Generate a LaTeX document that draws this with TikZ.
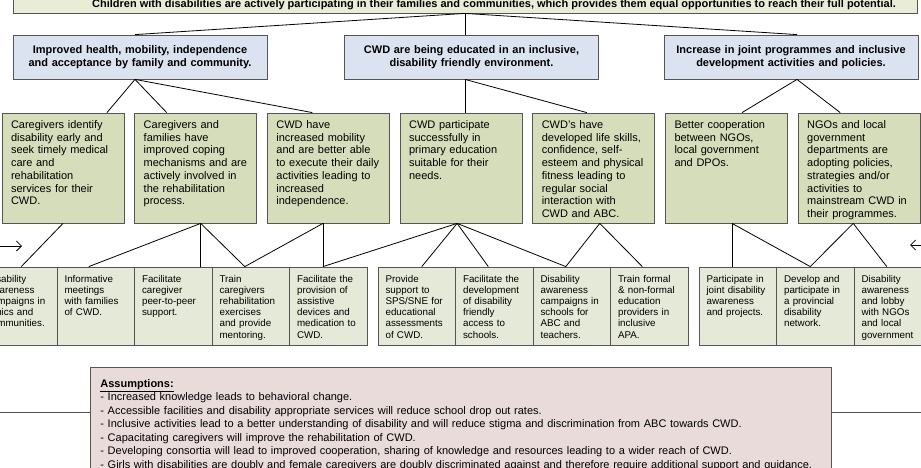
\documentclass[tikz,border=0pt]{standalone}
\usepackage{fontspec}
\setmainfont{Liberation Sans}
\usetikzlibrary{positioning,arrows.meta}
\definecolor{boxline}{RGB}{85,85,85}
\definecolor{goalfill}{RGB}{233,237,215}
\definecolor{outfill}{RGB}{220,227,240}
\definecolor{resfill}{RGB}{214,221,186}
\definecolor{actfill}{RGB}{229,233,215}
\definecolor{asmfill}{RGB}{234,219,219}
\tikzset{
  goal/.style={draw=boxline, fill=goalfill, minimum width=904pt, minimum height=17pt, inner sep=0pt, font=\bfseries\fontsize{11}{13}\selectfont},
  outcome/.style={draw=boxline, fill=outfill, text width=242pt, inner xsep=6pt, minimum height=44pt, align=center, font=\bfseries\fontsize{11}{13}\selectfont},
  result/.style={draw=boxline, fill=resfill, text width=104pt, inner xsep=9pt, inner ysep=5pt, text height=10.5pt, text depth=89.5pt, align=left, font=\fontsize{11}{12.7}\selectfont},
  activity/.style={draw=boxline, fill=actfill, text width=62.5pt, inner xsep=7.5pt, inner ysep=4pt, text height=11pt, text depth=59pt, align=left, font=\fontsize{9.8}{11.2}\selectfont},
  assume/.style={draw=boxline, fill=asmfill, text width=721pt, inner xsep=10pt, inner ysep=8pt, text height=12pt, text depth=130pt, align=left, font=\fontsize{11}{13.5}\selectfont}
}

\begin{document}
\begin{tikzpicture}[x=1pt, y=-1pt, on grid, node distance=132.7pt, line width=0.8pt]
\useasboundingbox (0,0) rectangle (921,468);

% Boxes
\node [goal] (vision) at (465,4.5) {\hspace*{58pt}Children with disabilities are actively participating in their families and communities, which provides them equal opportunities to reach their full potential.};

\node [outcome] (health) at (140,57) {Improved health, mobility, independence\\and acceptance by family and community.};
\node [outcome, right=331.5pt of health] (school) {CWD are being educated in an inclusive,\\disability friendly environment.};
\node [outcome, right=319.5pt of school] (joint) {Increase in joint programmes and inclusive\\development activities and policies.};

\node [result] (identify) at (63,168) {Caregivers identify\\disability early and\\seek timely medical\\care and\\rehabilitation\\services for their\\CWD.};
\node [result, right=of identify] (coping) {Caregivers and\\families have\\improved coping\\mechanisms and are\\actively involved in\\the rehabilitation\\process.};
\node [result, right=of coping] (mobility) {CWD have\\increased mobility\\and are better able\\to execute their daily\\activities leading to\\increased\\independence.};
\node [result, right=of mobility] (primary) {CWD participate\\successfully in\\primary education\\suitable for their\\needs.};
\node [result, right=of primary] (skills) {CWD's have\\developed life skills,\\confidence, self-\\esteem and physical\\fitness leading to\\regular social\\interaction with\\CWD and ABC.};
\node [result, right=of skills] (cooperation) {Better cooperation\\between NGOs,\\local government\\and DPOs.};
\node [result, right=of cooperation] (policies) {NGOs and local\\government\\departments are\\adopting policies,\\strategies and/or\\activities to\\mainstream CWD in\\their programmes.};

\node [activity] (clinics) at (18.3,306) {Disability\\awareness\\campaigns in\\clinics and\\communities.};
\node [activity, right=77.5pt of clinics] (meetings) {Informative\\meetings\\with families\\of CWD.};
\node [activity, right=77.5pt of meetings] (peer) {Facilitate\\caregiver\\peer-to-peer\\support.};
\node [activity, right=77.5pt of peer] (train) {Train\\caregivers\\rehabilitation\\exercises\\and provide\\mentoring.};
\node [activity, right=77.5pt of train] (devices) {Facilitate the\\provision of\\assistive\\devices and\\medication to\\CWD.};
\node [activity] (support) at (416.8,306) {Provide\\support to\\SPS/SNE for\\educational\\assessments\\of CWD.};
\node [activity, right=77.5pt of support] (access) {Facilitate the\\development\\of disability\\friendly\\access to\\schools.};
\node [activity, right=77.5pt of access] (campaigns) {Disability\\awareness\\campaigns in\\schools for\\ABC and\\teachers.};
\node [activity, right=77.5pt of campaigns] (formal) {Train formal\\\& non-formal\\education\\providers in\\inclusive\\APA.};
\node [activity] (participate) at (737.8,306) {Participate in\\joint disability\\awareness\\and projects.};
\node [activity, right=77.5pt of participate] (network) {Develop and\\participate in\\a provincial\\disability\\network.};
\node [activity, right=77.5pt of network] (lobby) {Disability\\awareness\\and lobby\\with NGOs\\and local\\government};

\node [assume, anchor=north west] (assumptions) at (90,367) {\textbf{\underline{Assumptions:}}\\
- Increased knowledge leads to behavioral change.\\
- Accessible facilities and disability appropriate services will reduce school drop out rates.\\
- Inclusive activities lead to a better understanding of disability and will reduce stigma and discrimination from ABC towards CWD.\\
- Capacitating caregivers will improve the rehabilitation of CWD.\\
- Developing consortia will lead to improved cooperation, sharing of knowledge and resources leading to a wider reach of CWD.\\
- Girls with disabilities are doubly and female caregivers are doubly discriminated against and therefore require additional support and guidance.};

\coordinate (leftin) at (-2,246);
\coordinate (leftout) at (22,246);
\coordinate (rightin) at (923,245);
\coordinate (rightout) at (910,245);
\coordinate (asmleft) at (-2,412);
\coordinate (asmright) at (923,412);

%Connections
\path (vision.south) edge ([xshift=-5pt]health.north);
\path (vision.south) edge (vision.south |- school.north);
\path (vision.south) edge ([xshift=6pt]joint.north);

\path ([xshift=-5pt]health.south) edge ([xshift=44pt]identify.north);
\path ([xshift=-5pt]health.south) edge ([xshift=-29pt]coping.north);
\path ([xshift=-5pt]health.south) edge ([xshift=-16pt]mobility.north);
\path (vision.south |- school.south) edge (vision.south |- primary.north);
\path (vision.south |- school.south) edge ([xshift=-7pt]skills.north);
\path ([xshift=6pt]joint.south) edge ([xshift=15.5pt]cooperation.north);
\path ([xshift=6pt]joint.south) edge ([xshift=-19pt]policies.north);

\path (identify.south) edge ([xshift=3pt]clinics.north);
\path ([xshift=5pt]coping.south) edge ([xshift=-7pt]meetings.north);
\path ([xshift=5pt]coping.south) edge ([xshift=5pt]coping.south |- peer.north);
\path ([xshift=5pt]coping.south) edge ([xshift=-6pt]train.north);
\path ([xshift=-5.4pt]mobility.south) edge ([xshift=-6pt]train.north);
\path ([xshift=-5.4pt]mobility.south) edge ([xshift=-5.4pt]mobility.south |- devices.north);
\path ([xshift=-4pt]primary.south) edge ([xshift=-5.3pt]devices.north);
\path ([xshift=-4pt]primary.south) edge ([xshift=5pt]support.north);
\path ([xshift=-4pt]primary.south) edge ([xshift=-6pt]access.north);
\path ([xshift=-4pt]primary.south) edge ([xshift=-6pt]campaigns.north);
\path ([xshift=6pt]skills.south) edge ([xshift=-6pt]campaigns.north);
\path ([xshift=6pt]skills.south) edge ([xshift=-7pt]formal.north);
\path ([xshift=5.5pt]cooperation.south) edge ([xshift=5.5pt]cooperation.south |- participate.north);
\path ([xshift=5.5pt]cooperation.south) edge ([xshift=-5pt]network.north);
\path ([xshift=-6pt]policies.south) edge ([xshift=-5pt]network.north);
\path ([xshift=-6pt]policies.south) edge ([xshift=-6pt]lobby.north);

\path[-{Straight Barb[length=5pt,width=10pt]}] (leftin) edge (leftout);
\path[-{Straight Barb[length=5pt,width=10pt]}] (rightin) edge (rightout);
\path[draw=boxline, line width=1pt] (asmleft) edge (asmleft -| assumptions.west);
\path[draw=boxline, line width=1pt] (assumptions.east |- asmright) edge (asmright);

\end{tikzpicture}
\end{document}
